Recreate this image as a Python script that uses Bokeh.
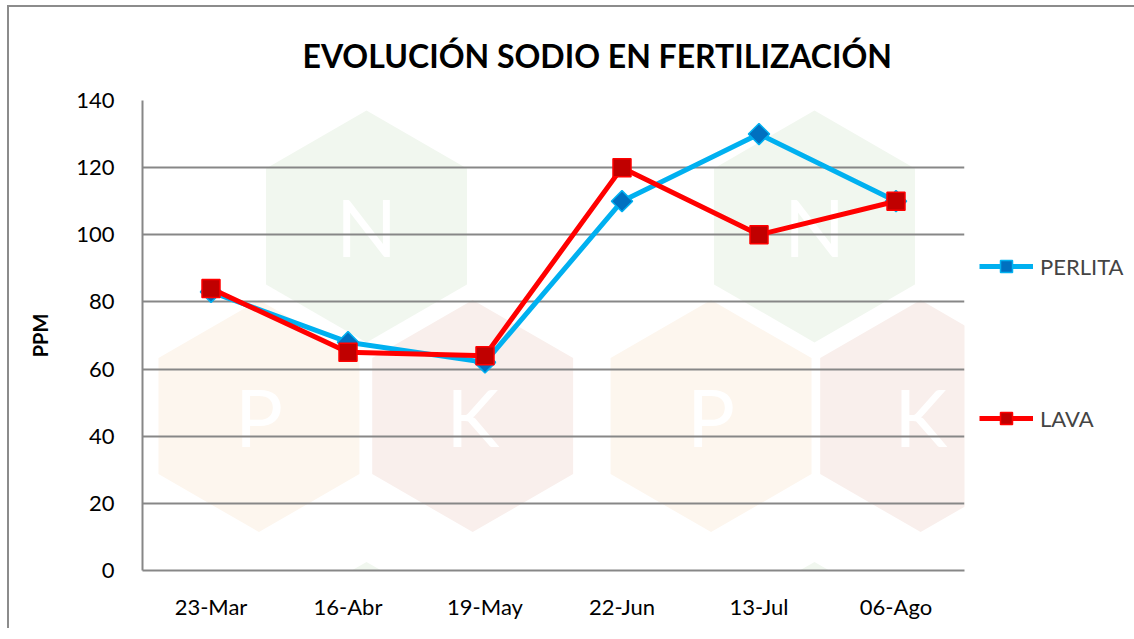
from bokeh.plotting import figure
from bokeh.models import Range1d, FactorRange, FixedTicker, Legend, LegendItem, ColumnDataSource
from bokeh.core.properties import value
from bokeh.embed import file_html
from bokeh.resources import INLINE
import numpy as np

# ---------------- data ----------------
categories = ["23-Mar", "16-Abr", "19-May", "22-Jun", "13-Jul", "06-Ago"]
perlita = [83, 68, 62, 110, 130, 110]
lava = [84, 65, 64, 120, 100, 110]
y_ticks = [0, 20, 40, 60, 80, 100, 120, 140]
title_text = "EVOLUCIÓN SODIO EN FERTILIZACIÓN"
y_label = "PPM"
series_names = ["PERLITA", "LAVA"]

# decorative background logo (N-P-K hexagons), not data
wm_x = [1.635, 4.905, 0.85, 2.41, 4.15, 5.68, 1.635, 4.905]
wm_y = [102.5, 102.5, 46.0, 46.0, 46.0, 46.0, -32.0, -32.0]
wm_letter = ["N", "N", "P", "K", "P", "K", "", ""]
wm_kind = ["g", "g", "o", "r", "o", "r", "g", "g"]

FONT = "Lato"
GRID = "#878787"
wm_palette = {"g": "#f1f7ef", "o": "#fdf6ee", "r": "#f9efec"}

p = figure(
    x_range=FactorRange(*categories, range_padding=0),
    y_range=Range1d(0, 140),
    frame_width=822, frame_height=470,
    min_border_left=133, min_border_right=150,
    min_border_top=89, min_border_bottom=58,
    output_backend="svg", toolbar_location=None,
    styles={"border-left": "2px solid #8c8c8c", "border-top": "2px solid #8c8c8c",
            "margin-left": "7px", "margin-top": "5px"},
)
p.outline_line_color = None
p.background_fill_color = "white"
p.border_fill_color = "white"

p.title.text = title_text
p.title.text_font = FONT
p.title.text_font_size = "32px"
p.title.text_font_style = "bold"
p.title.text_color = "black"
p.title.align = "left"
p.title.offset = 160
p.title.standoff = 52

# watermark
wm = ColumnDataSource(dict(x=wm_x, y=wm_y, t=wm_letter,
                           c=[wm_palette[k] for k in wm_kind]))
p.scatter("x", "y", source=wm, marker="hex", size=232, angle=np.pi / 2,
          fill_color="c", line_color=None, level="underlay")
p.text("x", "y", text="t", source=wm, text_color="white",
       text_font=value(FONT), text_font_size="80px",
       text_align="center", text_baseline="middle", level="underlay")

# grid & axes
p.xgrid.grid_line_color = None
p.ygrid.grid_line_color = GRID
p.ygrid.grid_line_width = 2
p.yaxis.ticker = FixedTicker(ticks=y_ticks)
for ax in (p.xaxis[0], p.yaxis[0]):
    ax.axis_line_color = GRID
    ax.axis_line_width = 2
    ax.major_tick_line_color = None
    ax.minor_tick_line_color = None
    ax.major_label_text_font = FONT
    ax.major_label_text_font_size = "22px"
    ax.major_label_text_color = "black"
p.xaxis.major_label_standoff = 16
p.yaxis.major_label_standoff = 22
p.yaxis.axis_label = y_label
p.yaxis.axis_label_text_font = FONT
p.yaxis.axis_label_text_font_size = "20px"
p.yaxis.axis_label_text_font_style = "bold"
p.yaxis.axis_label_text_color = "black"
p.yaxis.axis_label_standoff = 21

src = ColumnDataSource(dict(cat=categories, perlita=perlita, lava=lava))

l1 = p.line("cat", "perlita", source=src, line_color="#00b0f0", line_width=5)
s1 = p.scatter("cat", "perlita", source=src, marker="square", angle=np.pi / 4,
               size=15, fill_color="#0070c0", line_color="#00b0f0", line_width=1.5)
l2 = p.line("cat", "lava", source=src, line_color="#ff0000", line_width=5)
s2 = p.scatter("cat", "lava", source=src, marker="square", size=18,
               fill_color="#c00000", line_color="#ff0000", line_width=1.5)

legend = Legend(
    items=[LegendItem(label=series_names[0], renderers=[l1, s1]),
           LegendItem(label=series_names[1], renderers=[l2, s2])],
    location=(15, 137), spacing=122, glyph_width=54, glyph_height=30,
    label_text_font=FONT, label_text_font_size="22px", label_standoff=7,
    border_line_color=None, background_fill_alpha=0, padding=0, margin=0,
)
p.add_layout(legend, "right")

open("out.html", "w").write(file_html(p, INLINE))
